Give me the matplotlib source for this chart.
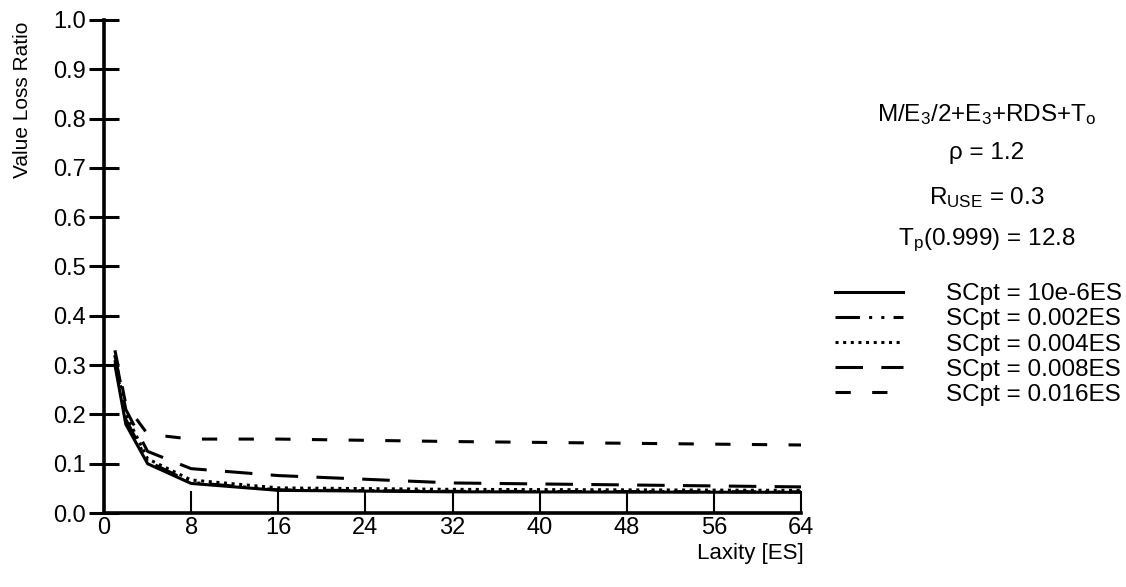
import matplotlib
matplotlib.use("Agg")
import matplotlib.pyplot as plt

plt.rcParams['font.family'] = ['Liberation Sans', 'DejaVu Sans']
plt.rcParams['mathtext.default'] = 'regular'

# laxity values (in ES) and value loss ratio for each checkpoint cost
laxity = [1, 2, 4, 8, 16, 32, 64]
sc_10e6 = [0.300, 0.180, 0.100, 0.060, 0.046, 0.043, 0.042]
sc_002 = [0.310, 0.190, 0.105, 0.062, 0.047, 0.044, 0.043]
sc_004 = [0.320, 0.200, 0.110, 0.067, 0.051, 0.048, 0.046]
sc_008 = [0.320, 0.210, 0.125, 0.090, 0.076, 0.061, 0.053]
sc_016 = [0.330, 0.220, 0.160, 0.150, 0.150, 0.145, 0.138]

labels = ['SCpt = 10e-6ES', 'SCpt = 0.002ES', 'SCpt = 0.004ES',
          'SCpt = 0.008ES', 'SCpt = 0.016ES']
x_ticks = [0, 8, 16, 24, 32, 40, 48, 56, 64]
y_ticks = [0.0, 0.1, 0.2, 0.3, 0.4, 0.5, 0.6, 0.7, 0.8, 0.9, 1.0]

fig = plt.figure(figsize=(11.26, 5.87), dpi=100)
ax = fig.add_axes([0.0924, 0.126, 0.619, 0.840])

styles = [
    dict(linestyle='-'),
    dict(linestyle=(0, (8, 3, 1, 3, 1, 3))),
    dict(linestyle=(0, (1, 1.5))),
    dict(linestyle=(0, (9, 6))),
    dict(linestyle=(0, (5, 7))),
]
series = [sc_10e6, sc_002, sc_004, sc_008, sc_016]
for vals, lab, st in zip(series, labels, styles):
    ax.plot(laxity, vals, color='black', linewidth=2.2, label=lab, **st)

ax.set_xlim(0, 64)
ax.set_ylim(0, 1.0)
ax.set_xticks(x_ticks)
ax.set_yticks(y_ticks)
ax.set_yticklabels([f'{v:.1f}' for v in y_ticks])
ax.tick_params(axis='both', labelsize=17, colors='black')
ax.tick_params(axis='y', direction='inout', length=22, width=2.2, pad=2)
ax.tick_params(axis='x', direction='in', length=16, width=1.5, pad=3)

for side in ['top', 'right']:
    ax.spines[side].set_visible(False)
for side in ['left', 'bottom']:
    ax.spines[side].set_linewidth(2.6)

# y label sits high up, next to the top of the axis
ax.set_ylabel('Value Loss Ratio', fontsize=15)
ax.yaxis.set_label_coords(-0.103, 0.838)
ax.set_xlabel('Laxity [ES]', fontsize=16)
ax.xaxis.set_label_coords(0.927, -0.060)

# parameter block on the right
fig.text(0.876, 1 - 115 / 587, r'M/E$_3$/2+E$_3$+RDS+T$_o$', fontsize=17.5,
         ha='center', va='center')
fig.text(0.876, 1 - 153 / 587, 'ρ = 1.2', fontsize=17.5, ha='center', va='center')
fig.text(0.876, 1 - 198 / 587, r'R$_{USE}$ = 0.3', fontsize=17.5,
         ha='center', va='center')
fig.text(0.876, 1 - 240 / 587, r'T$_p$(0.999) = 12.8', fontsize=17.5,
         ha='center', va='center')

fig.legend(loc='upper left', bbox_to_anchor=(0.731, 1 - 271 / 587),
           frameon=False, fontsize=17.5, handlelength=2.8,
           handletextpad=1.75, labelspacing=0.13, borderpad=0)

fig.savefig('out.png', dpi=100)
